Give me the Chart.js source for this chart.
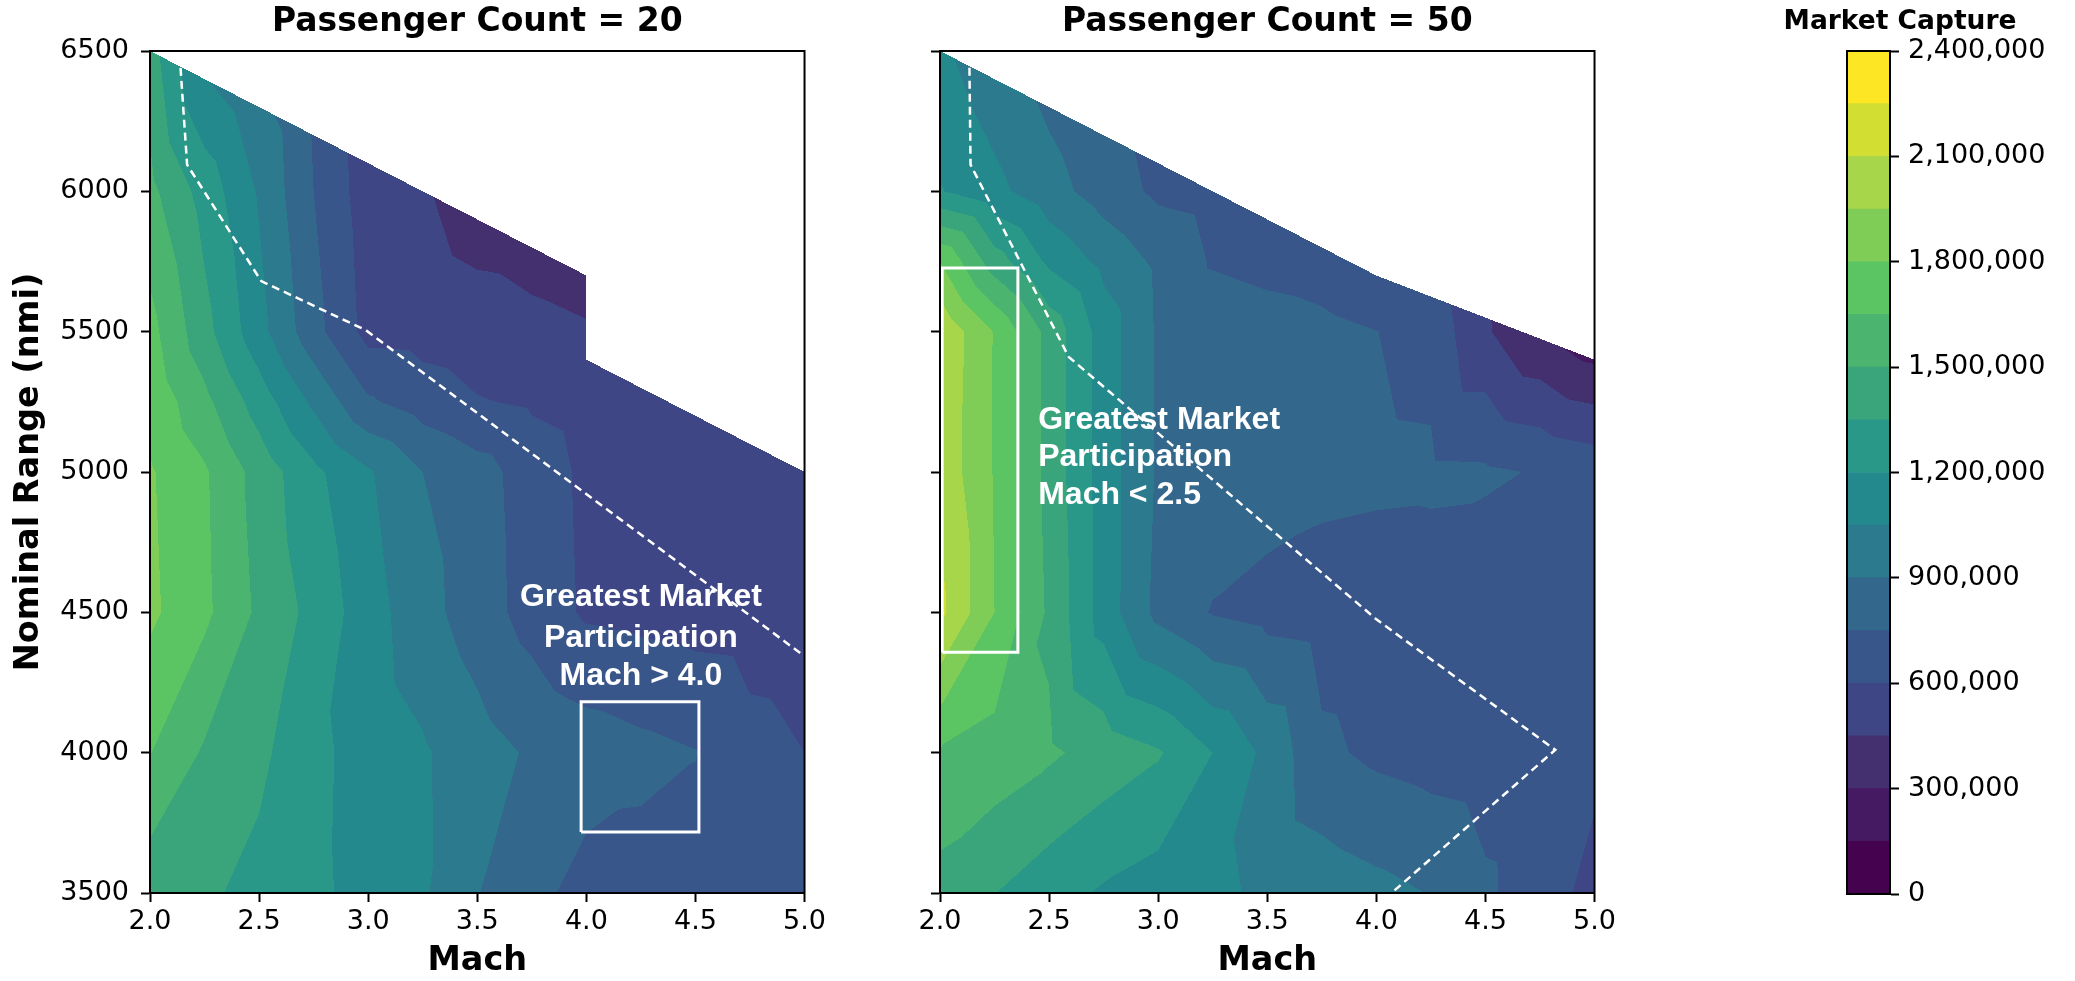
<!DOCTYPE html>
<html>
<head>
<meta charset="utf-8">
<script src="https://cdn.jsdelivr.net/npm/chart.js@4.4.1/dist/chart.umd.min.js"></script>
<style>
  html, body { margin: 0; padding: 0; background: #fff; }
  #page { position: relative; width: 2075px; height: 981px; overflow: hidden; background: #fff; }
  .box { position: absolute; top: 0; height: 981px; }
  canvas { display: block; }
</style>
</head>
<body>
<div id="page">
  <div class="box" style="left:0;width:830px"><canvas id="pax20" width="830" height="981"></canvas></div>
  <div class="box" style="left:830px;width:790px"><canvas id="pax50" width="790" height="981"></canvas></div>
  <div class="box" style="left:1725px;width:350px"><canvas id="cbar" width="350" height="981"></canvas></div>
</div>
<script>
// axes
const machTicks = [2.0, 2.5, 3.0, 3.5, 4.0, 4.5, 5.0];
const rangeTicks = [3500, 4000, 4500, 5000, 5500, 6000, 6500];
const passengerCounts = [20, 50];

// market capture in thousands, one row per nominal range, one column per Mach
const gridMach = [2.0, 2.25, 2.5, 2.75, 3.0, 3.25, 3.5, 3.75, 4.0, 4.25, 4.5, 4.75, 5.0];

const rows20 = [3500, 4000, 4500, 5000, 5250, 5500, 6000, 6500];
const capture20 = [
  [1400, 1375, 1305, 1230, 1150, 1070, 905, 800, 690, 685, 680, 675, 670],
  [1655, 1481, 1385, 1236, 1141, 1068, 964, 880, 830, 790, 755, 650, 600],
  [1830, 1683, 1471, 1304, 1117, 955, 823, 690, 580, 560, 540, 530, 520],
  [1815, 1669, 1440, 1235, 1068, 900, 809, 683, 570, 555, 545, 535, 530],
  [1760, 1540, 1280, 1020, 770, 680, 610, 580, 540, 520, 520, 520, 525],
  [1700, 1401, 1102, 803, 550, 540, 510, 480, 460, 480, 500, 510, 520],
  [1540, 1290, 1033, 750, 520, 465, 374, 365, 349, 340, 340, 340, 340],
  [1420, 1000, 860, 720, 500, 430, 360, 340, 330, 330, 330, 330, 330]
];

const rows50 = [3500, 4000, 4500, 5000, 5500, 5750, 6000, 6500];
const capture50 = [
  [1440, 1353, 1260, 1181, 1128, 1075, 1028, 985, 941, 895, 778, 658, 560],
  [1640, 1590, 1525, 1440, 1365, 1200, 1010, 780, 720, 690, 670, 650, 630],
  [2140, 1800, 1473, 1132, 856, 740, 700, 680, 670, 680, 655, 650, 645],
  [2060, 1788, 1450, 1130, 880, 850, 820, 790, 780, 775, 770, 740, 700],
  [2080, 1790, 1450, 1130, 880, 855, 822, 790, 752, 700, 470, 300, 180],
  [1800, 1420, 1170, 1010, 870, 735, 700, 680, 620, 520, 430, 300, 200],
  [1210, 1090, 960, 830, 720, 690, 660, 640, 600, 560, 480, 400, 300],
  [1080, 940, 820, 720, 660, 640, 620, 600, 560, 480, 400, 300, 200]
];

// greatest feasible range per Mach
const edge20Mach = [2.0, 4.0, 4.0, 5.0];
const edge20Range = [6500, 5700, 5400, 5000];
const edge50Mach = [2.0, 4.0, 5.0];
const edge50Range = [6500, 5700, 5400];

// dashed white boundaries
const pareto20Mach = [2.14, 2.17, 2.51, 2.99, 4.98];
const pareto20Range = [6440, 6095, 5680, 5505, 4355];
const pareto50Mach = [2.135, 2.14, 2.59, 4.0, 4.82, 4.07];
const pareto50Range = [6440, 6095, 5410, 4475, 4010, 3500];

// highlighted boxes (Mach span, range span)
const box20Mach = [3.976, 4.516];
const box20Range = [3717, 4181];
const box50Mach = [2.01, 2.357];
const box50Range = [4358, 5727];

const note20 = ['Greatest Market', 'Participation', 'Mach > 4.0'];
const note50 = ['Greatest Market', 'Participation', 'Mach < 2.5'];

// contour levels and colorbar ticks (thousands)
const captureLevels = [0, 150, 300, 450, 600, 750, 900, 1050, 1200, 1350, 1500, 1650, 1800, 1950, 2100, 2250, 2400];
const captureTicks = [0, 300, 600, 900, 1200, 1500, 1800, 2100, 2400];

// band colours as they appear on the reference colorbar
const bandColors = ['#45034f', '#461a62', '#45306f', '#3f4686', '#39568a', '#33688c', '#2c7a8d', '#23898d',
                    '#2a9888', '#3aa57b', '#4bb46f', '#5cc563', '#7fcc56', '#a8d64a', '#d3de32', '#fde725'];
const bandRgb = bandColors.map(h => [parseInt(h.slice(1, 3), 16), parseInt(h.slice(3, 5), 16), parseInt(h.slice(5, 7), 16)]);

const tickFont = { family: 'DejaVu Sans', size: 27 };
const labelFont = { family: 'DejaVu Sans', size: 33.5, weight: 'bold' };
const titleFont = { family: 'DejaVu Sans', size: 33, weight: 'bold' };

function fmtThousands(v) {
  return String(Math.round(v * 1000)).replace(/\B(?=(\d{3})+(?!\d))/g, ',');
}

function locate(arr, v) {
  let i = 0;
  while (i < arr.length - 2 && v > arr[i + 1]) i++;
  return i;
}

function edgeAt(ms, rs, m) {
  for (let i = 0; i < ms.length - 1; i++) {
    if (ms[i + 1] === ms[i]) continue;
    if (m >= ms[i] && m <= ms[i + 1]) return rs[i] + (rs[i + 1] - rs[i]) * (m - ms[i]) / (ms[i + 1] - ms[i]);
  }
  return -Infinity;
}

// linear interpolation on triangles of the grid
function valueAt(grid, rows, m, r) {
  const i = locate(gridMach, m), j = locate(rows, r);
  const u = (m - gridMach[i]) / (gridMach[i + 1] - gridMach[i]);
  const w = (r - rows[j]) / (rows[j + 1] - rows[j]);
  const v00 = grid[j][i], v10 = grid[j][i + 1], v01 = grid[j + 1][i], v11 = grid[j + 1][i + 1];
  if (u >= w) return v00 + u * (v10 - v00) + w * (v11 - v10);
  return v00 + w * (v01 - v00) + u * (v11 - v01);
}

function bandOf(v) {
  let k = 0;
  while (k < captureLevels.length - 2 && v >= captureLevels[k + 1]) k++;
  return k;
}

function contourPlugin(p) {
  return {
    id: 'contourFill',
    beforeDatasetsDraw(chart) {
      const { ctx, chartArea: a, scales: { x, y } } = chart;
      const x0 = Math.round(a.left), y0 = Math.round(a.top);
      const w = Math.round(a.right) - x0, h = Math.round(a.bottom) - y0;
      const off = document.createElement('canvas');
      off.width = w; off.height = h;
      const octx = off.getContext('2d');
      const img = octx.createImageData(w, h);
      for (let py = 0; py < h; py++) {
        const r = y.getValueForPixel(y0 + py + 0.5);
        for (let px = 0; px < w; px++) {
          const m = x.getValueForPixel(x0 + px + 0.5);
          if (r > edgeAt(p.edgeMach, p.edgeRange, m)) continue;
          const c = bandRgb[bandOf(valueAt(p.grid, p.rows, m, r))];
          const idx = (py * w + px) * 4;
          img.data[idx] = c[0]; img.data[idx + 1] = c[1]; img.data[idx + 2] = c[2]; img.data[idx + 3] = 255;
        }
      }
      octx.putImageData(img, 0, 0);
      ctx.drawImage(off, x0, y0);
    }
  };
}

function notePlugin(p) {
  return {
    id: 'notes',
    afterDatasetsDraw(chart) {
      const { ctx, scales: { x, y } } = chart;
      ctx.save();
      ctx.fillStyle = '#fff';
      ctx.font = 'bold 32px "Liberation Sans", Arial, sans-serif';
      ctx.textAlign = p.noteAlign;
      ctx.textBaseline = 'middle';
      p.note.forEach((t, i) => ctx.fillText(t, x.getPixelForValue(p.noteMach), y.getPixelForValue(p.noteRange[i])));
      ctx.restore();
    }
  };
}

const framePlugin = {
  id: 'frame',
  afterDraw(chart) {
    const { ctx, chartArea: a } = chart;
    ctx.save();
    ctx.strokeStyle = '#000';
    ctx.lineWidth = 2;
    ctx.strokeRect(a.left, a.top, a.right - a.left, a.bottom - a.top);
    ctx.restore();
  }
};

const cbarTitlePlugin = {
  id: 'cbarTitle',
  afterDraw(chart) {
    const { ctx } = chart;
    ctx.save();
    ctx.fillStyle = '#000';
    ctx.font = 'bold 26.5px "DejaVu Sans"';
    ctx.textAlign = 'center';
    ctx.textBaseline = 'middle';
    ctx.fillText('Market Capture', 175, 22);
    ctx.restore();
  }
};

function pairs(ms, rs) { return ms.map((m, i) => ({ x: m, y: rs[i] })); }
function boxPath(bm, br) {
  return pairs([bm[0], bm[1], bm[1], bm[0], bm[0]], [br[0], br[0], br[1], br[1], br[0]]);
}

const panels = [
  { canvas: 'pax20', title: 'Passenger Count = ' + passengerCounts[0], rows: rows20, grid: capture20,
    edgeMach: edge20Mach, edgeRange: edge20Range, paretoMach: pareto20Mach, paretoRange: pareto20Range,
    boxMach: box20Mach, boxRange: box20Range, note: note20,
    axisWidth: 150, padRight: 23, yLabels: true,
    noteMach: 4.25, noteRange: [4555, 4408, 4272], noteAlign: 'center' },
  { canvas: 'pax50', title: 'Passenger Count = ' + passengerCounts[1], rows: rows50, grid: capture50,
    edgeMach: edge50Mach, edgeRange: edge50Range, paretoMach: pareto50Mach, paretoRange: pareto50Range,
    boxMach: box50Mach, boxRange: box50Range, note: note50,
    axisWidth: 110, padRight: 23, yLabels: false,
    noteMach: 2.45, noteRange: [5185, 5052, 4916], noteAlign: 'left' }
];

const tickGrid = { drawOnChartArea: false, drawTicks: true, tickLength: 9, tickWidth: 2, tickColor: '#000' };
const axisBorder = { display: true, color: '#000', width: 2 };

panels.forEach(p => {
  new Chart(document.getElementById(p.canvas), {
    type: 'scatter',
    data: {
      datasets: [
        { data: pairs(p.paretoMach, p.paretoRange), showLine: true, borderColor: '#fff', borderWidth: 2.5,
          borderDash: [8, 5], pointRadius: 0 },
        { data: boxPath(p.boxMach, p.boxRange), showLine: true, borderColor: '#fff', borderWidth: 3,
          pointRadius: 0, borderJoinStyle: 'miter' }
      ]
    },
    options: {
      responsive: false,
      animation: false,
      devicePixelRatio: 1,
      events: [],
      layout: { padding: { left: 0, right: p.padRight, top: 0, bottom: 0 } },
      plugins: {
        legend: { display: false },
        tooltip: { enabled: false },
        title: { display: true, text: p.title, fullSize: false, color: '#000', font: titleFont,
                 padding: { top: 2.2, bottom: 9.2 } }
      },
      scales: {
        x: {
          type: 'linear', min: 2, max: 5,
          afterBuildTicks: s => { s.ticks = machTicks.map(v => ({ value: v })); },
          ticks: { callback: v => v.toFixed(1), font: tickFont, color: '#000', padding: 4, maxRotation: 0, autoSkip: false },
          grid: tickGrid, border: axisBorder,
          title: { display: true, text: 'Mach', color: '#000', font: labelFont, padding: { top: 0, bottom: 0 } },
          afterFit: s => { s.height = 88; }
        },
        y: {
          type: 'linear', min: 3500, max: 6500,
          afterBuildTicks: s => { s.ticks = rangeTicks.map(v => ({ value: v })); },
          ticks: { display: p.yLabels, callback: v => String(v), font: tickFont, color: '#000', padding: 12 },
          grid: tickGrid, border: axisBorder,
          title: { display: p.yLabels, text: 'Nominal Range (nmi)', color: '#000', font: labelFont,
                   padding: { top: 9, bottom: 0 } },
          afterFit: s => { s.width = p.axisWidth; }
        }
      }
    },
    plugins: [contourPlugin(p), notePlugin(p), framePlugin]
  });
});

// colorbar
new Chart(document.getElementById('cbar'), {
  type: 'bar',
  data: {
    labels: [''],
    datasets: captureLevels.slice(0, -1).map((lo, k) => ({
      data: [[lo, captureLevels[k + 1]]],
      backgroundColor: bandColors[k],
      borderWidth: 0,
      grouped: false,
      barPercentage: 1,
      categoryPercentage: 1
    }))
  },
  options: {
    responsive: false,
    animation: false,
    devicePixelRatio: 1,
    events: [],
    layout: { padding: { left: 122, right: 0, top: 51, bottom: 87 } },
    plugins: {
      legend: { display: false },
      tooltip: { enabled: false },
      title: { display: false }
    },
    scales: {
      x: { display: false },
      y: {
        position: 'right', min: 0, max: 2400,
        afterBuildTicks: s => { s.ticks = captureTicks.map(v => ({ value: v })); },
        ticks: { callback: v => fmtThousands(v), font: tickFont, color: '#000', padding: 9 },
        grid: tickGrid, border: axisBorder,
        afterFit: s => { s.width = 185; }
      }
    }
  },
  plugins: [framePlugin, cbarTitlePlugin]
});
</script>
</body>
</html>
